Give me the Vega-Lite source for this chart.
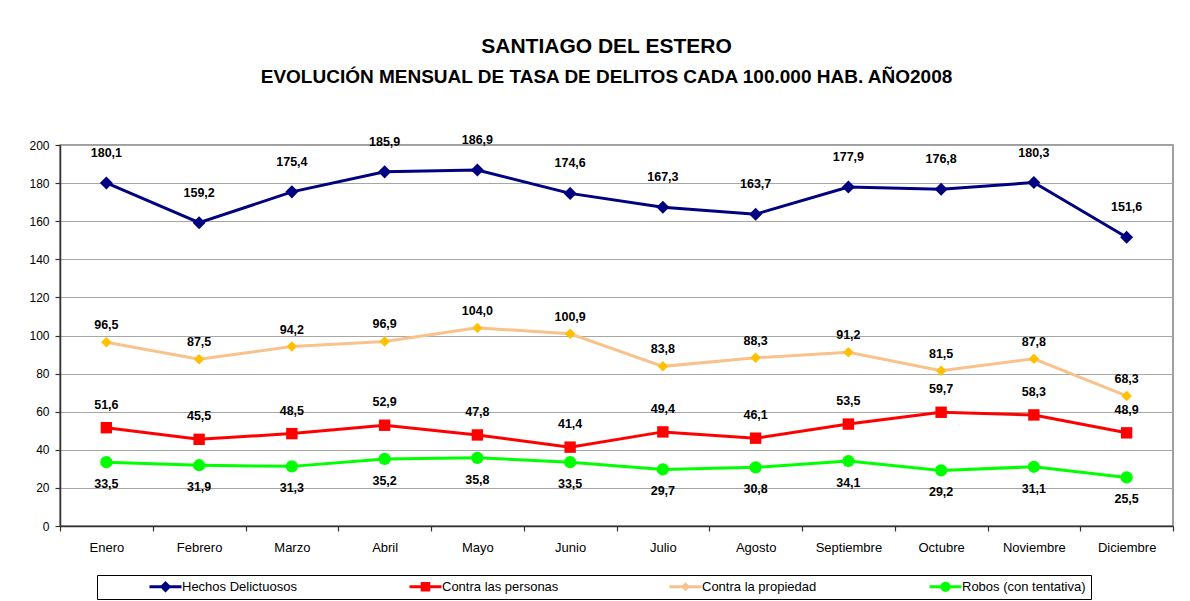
{
  "$schema": "https://vega.github.io/schema/vega-lite/v6.json",
  "width": 1113,
  "height": 381,
  "autosize": {"type": "none"},
  "padding": {"left": 60, "top": 145, "right": 17, "bottom": 75},
  "background": "white",
  "config": {
    "locale": {"number": {"decimal": ",", "thousands": ".", "grouping": [3], "currency": ["$", ""]}},
    "font": "Liberation Sans",
    "view": {"stroke": "#808080", "strokeWidth": 1.5},
    "axis": {"labelFont": "Liberation Sans", "labelColor": "#000000", "domainColor": "#333333", "tickColor": "#333333", "domainWidth": 1.5, "tickWidth": 1.2}
  },
  "title": {
    "text": "SANTIAGO DEL ESTERO",
    "subtitle": "EVOLUCIÓN MENSUAL DE TASA DE DELITOS CADA 100.000 HAB. AÑO2008",
    "anchor": "middle",
    "frame": "group",
    "dx": -10,
    "offset": 47,
    "font": "Liberation Sans",
    "fontSize": 21,
    "fontWeight": "bold",
    "color": "#000000",
    "subtitleFont": "Liberation Sans",
    "subtitleFontSize": 19,
    "subtitleFontWeight": "bold",
    "subtitleColor": "#000000",
    "subtitlePadding": 11
  },
  "data": {
    "values": [
      {"mes": "Enero", "serie": "Hechos Delictuosos", "valor": 180.1},
      {"mes": "Febrero", "serie": "Hechos Delictuosos", "valor": 159.2},
      {"mes": "Marzo", "serie": "Hechos Delictuosos", "valor": 175.4},
      {"mes": "Abril", "serie": "Hechos Delictuosos", "valor": 185.9},
      {"mes": "Mayo", "serie": "Hechos Delictuosos", "valor": 186.9},
      {"mes": "Junio", "serie": "Hechos Delictuosos", "valor": 174.6},
      {"mes": "Julio", "serie": "Hechos Delictuosos", "valor": 167.3},
      {"mes": "Agosto", "serie": "Hechos Delictuosos", "valor": 163.7},
      {"mes": "Septiembre", "serie": "Hechos Delictuosos", "valor": 177.9},
      {"mes": "Octubre", "serie": "Hechos Delictuosos", "valor": 176.8},
      {"mes": "Noviembre", "serie": "Hechos Delictuosos", "valor": 180.3},
      {"mes": "Diciembre", "serie": "Hechos Delictuosos", "valor": 151.6},
      {"mes": "Enero", "serie": "Contra las personas", "valor": 51.6},
      {"mes": "Febrero", "serie": "Contra las personas", "valor": 45.5},
      {"mes": "Marzo", "serie": "Contra las personas", "valor": 48.5},
      {"mes": "Abril", "serie": "Contra las personas", "valor": 52.9},
      {"mes": "Mayo", "serie": "Contra las personas", "valor": 47.8},
      {"mes": "Junio", "serie": "Contra las personas", "valor": 41.4},
      {"mes": "Julio", "serie": "Contra las personas", "valor": 49.4},
      {"mes": "Agosto", "serie": "Contra las personas", "valor": 46.1},
      {"mes": "Septiembre", "serie": "Contra las personas", "valor": 53.5},
      {"mes": "Octubre", "serie": "Contra las personas", "valor": 59.7},
      {"mes": "Noviembre", "serie": "Contra las personas", "valor": 58.3},
      {"mes": "Diciembre", "serie": "Contra las personas", "valor": 48.9},
      {"mes": "Enero", "serie": "Contra la propiedad", "valor": 96.5},
      {"mes": "Febrero", "serie": "Contra la propiedad", "valor": 87.5},
      {"mes": "Marzo", "serie": "Contra la propiedad", "valor": 94.2},
      {"mes": "Abril", "serie": "Contra la propiedad", "valor": 96.9},
      {"mes": "Mayo", "serie": "Contra la propiedad", "valor": 104.0},
      {"mes": "Junio", "serie": "Contra la propiedad", "valor": 100.9},
      {"mes": "Julio", "serie": "Contra la propiedad", "valor": 83.8},
      {"mes": "Agosto", "serie": "Contra la propiedad", "valor": 88.3},
      {"mes": "Septiembre", "serie": "Contra la propiedad", "valor": 91.2},
      {"mes": "Octubre", "serie": "Contra la propiedad", "valor": 81.5},
      {"mes": "Noviembre", "serie": "Contra la propiedad", "valor": 87.8},
      {"mes": "Diciembre", "serie": "Contra la propiedad", "valor": 68.3},
      {"mes": "Enero", "serie": "Robos (con tentativa)", "valor": 33.5},
      {"mes": "Febrero", "serie": "Robos (con tentativa)", "valor": 31.9},
      {"mes": "Marzo", "serie": "Robos (con tentativa)", "valor": 31.3},
      {"mes": "Abril", "serie": "Robos (con tentativa)", "valor": 35.2},
      {"mes": "Mayo", "serie": "Robos (con tentativa)", "valor": 35.8},
      {"mes": "Junio", "serie": "Robos (con tentativa)", "valor": 33.5},
      {"mes": "Julio", "serie": "Robos (con tentativa)", "valor": 29.7},
      {"mes": "Agosto", "serie": "Robos (con tentativa)", "valor": 30.8},
      {"mes": "Septiembre", "serie": "Robos (con tentativa)", "valor": 34.1},
      {"mes": "Octubre", "serie": "Robos (con tentativa)", "valor": 29.2},
      {"mes": "Noviembre", "serie": "Robos (con tentativa)", "valor": 31.1},
      {"mes": "Diciembre", "serie": "Robos (con tentativa)", "valor": 25.5}
    ]
  },
  "encoding": {
    "x": {
      "field": "mes",
      "type": "nominal",
      "sort": ["Enero", "Febrero", "Marzo", "Abril", "Mayo", "Junio", "Julio", "Agosto", "Septiembre", "Octubre", "Noviembre", "Diciembre"],
      "scale": {"paddingInner": 0, "paddingOuter": 0},
      "axis": {"title": null, "labelAngle": 0, "labelFontSize": 13, "tickBand": "extent", "tickSize": 5, "labelPadding": 10, "grid": false}
    },
    "y": {
      "field": "valor",
      "type": "quantitative",
      "scale": {"domain": [0, 200], "nice": false, "zero": true},
      "axis": {"title": null, "values": [0, 20, 40, 60, 80, 100, 120, 140, 160, 180, 200], "labelFontSize": 12, "tickSize": 5, "labelPadding": 6, "gridColor": "#A6A6A6", "gridWidth": 1}
    }
  },
  "layer": [
    {
      "mark": {"type": "point", "filled": true, "size": 0, "opacity": 1},
      "encoding": {
        "fill": {
          "field": "serie",
          "type": "nominal",
          "scale": {
            "domain": ["Hechos Delictuosos", "Contra las personas", "Contra la propiedad", "Robos (con tentativa)"],
            "range": ["#000080", "#FF0000", "#F9C28C", "#00FF00"]
          },
          "legend": {"orient": "none", "legendX": 37, "legendY": 430, "direction": "horizontal", "columns": 4, "gridAlign": "all", "title": null, "symbolSize": 100, "symbolOffset": 57, "symbolStrokeWidth": 0, "padding": 5, "strokeColor": "#000000", "labelFontSize": 13, "labelFont": "Liberation Sans", "labelColor": "#000000", "labelOffset": 10, "columnPadding": 56}
        },
        "shape": {
          "field": "serie",
          "type": "nominal",
          "scale": {
            "domain": ["Hechos Delictuosos", "Contra las personas", "Contra la propiedad", "Robos (con tentativa)"],
            "range": [
              "M-3.2,-0.32H3.2V0.32H-3.2Z M0,-1.15L1.15,0L0,1.15L-1.15,0Z",
              "M-3.2,-0.32H3.2V0.32H-3.2Z M-0.96,-0.96H0.96V0.96H-0.96Z",
              "M-3.2,-0.32H3.2V0.32H-3.2Z M0,-0.9L0.9,0L0,0.9L-0.9,0Z",
              "M-3.2,-0.32H3.2V0.32H-3.2Z M1.02,0A1.02,1.02,0,1,1,-1.02,0A1.02,1.02,0,1,1,1.02,0Z"
            ]
          },
          "legend": {"orient": "none", "legendX": 37, "legendY": 430, "direction": "horizontal", "columns": 4, "gridAlign": "all", "title": null, "symbolSize": 100, "symbolOffset": 57, "symbolStrokeWidth": 0, "padding": 5, "strokeColor": "#000000", "labelFontSize": 13, "labelFont": "Liberation Sans", "labelColor": "#000000", "labelOffset": 10, "columnPadding": 56}
        }
      }
    },
    {
      "mark": {"type": "line", "strokeWidth": 3},
      "encoding": {
        "detail": {"field": "serie"},
        "stroke": {
          "field": "serie",
          "type": "nominal",
          "scale": {
            "domain": ["Hechos Delictuosos", "Contra las personas", "Contra la propiedad", "Robos (con tentativa)"],
            "range": ["#000080", "#FF0000", "#F9C28C", "#00FF00"]
          },
          "legend": null
        }
      }
    },
    {
      "transform": [{"filter": "datum.serie === 'Hechos Delictuosos'"}],
      "mark": {"type": "point", "filled": true, "shape": "diamond", "size": 170, "color": "#000080", "opacity": 1}
    },
    {
      "transform": [{"filter": "datum.serie === 'Contra las personas'"}],
      "mark": {"type": "point", "filled": true, "shape": "square", "size": 130, "color": "#FF0000", "opacity": 1}
    },
    {
      "transform": [{"filter": "datum.serie === 'Contra la propiedad'"}],
      "mark": {"type": "point", "filled": true, "shape": "diamond", "size": 110, "color": "#FFC000", "opacity": 1}
    },
    {
      "transform": [{"filter": "datum.serie === 'Robos (con tentativa)'"}],
      "mark": {"type": "point", "filled": true, "shape": "circle", "size": 150, "color": "#00FF00", "opacity": 1}
    },
    {
      "transform": [{"filter": "datum.serie === 'Hechos Delictuosos'"}],
      "mark": {"type": "text", "dy": -30, "fontSize": 12.5, "fontWeight": "bold", "color": "#000000", "font": "Liberation Sans"},
      "encoding": {"text": {"field": "valor", "type": "quantitative", "format": ".1f"}}
    },
    {
      "transform": [{"filter": "datum.serie === 'Contra las personas'"}],
      "mark": {"type": "text", "dy": -23, "fontSize": 12.5, "fontWeight": "bold", "color": "#000000", "font": "Liberation Sans"},
      "encoding": {"text": {"field": "valor", "type": "quantitative", "format": ".1f"}}
    },
    {
      "transform": [{"filter": "datum.serie === 'Contra la propiedad'"}],
      "mark": {"type": "text", "dy": -17, "fontSize": 12.5, "fontWeight": "bold", "color": "#000000", "font": "Liberation Sans"},
      "encoding": {"text": {"field": "valor", "type": "quantitative", "format": ".1f"}}
    },
    {
      "transform": [{"filter": "datum.serie === 'Robos (con tentativa)'"}],
      "mark": {"type": "text", "dy": 22, "fontSize": 12.5, "fontWeight": "bold", "color": "#000000", "font": "Liberation Sans"},
      "encoding": {"text": {"field": "valor", "type": "quantitative", "format": ".1f"}}
    }
  ]
}
